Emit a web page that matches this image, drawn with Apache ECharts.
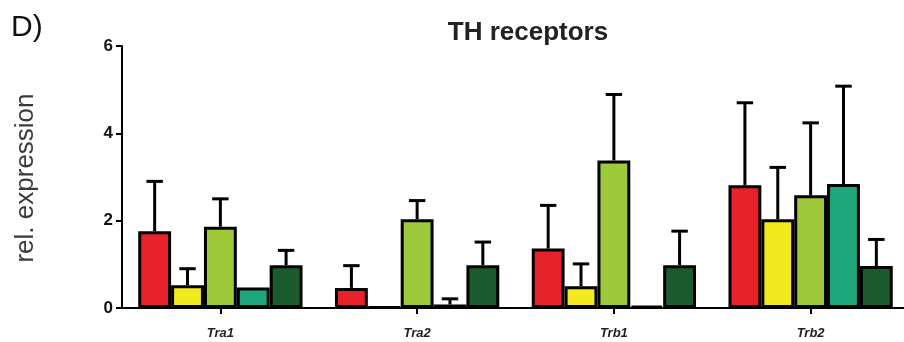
<!DOCTYPE html>
<html>
<head>
<meta charset="utf-8">
<script src="https://cdn.jsdelivr.net/npm/echarts@6/dist/echarts.min.js"></script>
<style>
  html, body { margin: 0; padding: 0; background: #fff; overflow: hidden; }
  #chart { width: 912px; height: 342px; }
</style>
</head>
<body>
<div id="chart"></div>
<script>
// Genes on the x axis
const genes = ['Tra1', 'Tra2', 'Trb1', 'Trb2'];
const yTicks = [0, 2, 4, 6];

// Mean relative expression per group
const groupA = [1.76, 0.46, 1.36, 2.81];
const groupB = [0.52, 0.02, 0.50, 2.03];
const groupC = [1.86, 2.03, 3.38, 2.58];
const groupD = [0.47, 0.08, 0.05, 2.84];
const groupE = [0.98, 0.98, 0.98, 0.96];

// Upper error (SD) per group
const errA = [1.14, 0.51, 0.99, 1.89];
const errB = [0.38, 0.00, 0.51, 1.19];
const errC = [0.64, 0.43, 1.51, 1.66];
const errD = [0.00, 0.13, 0.00, 2.24];
const errE = [0.34, 0.53, 0.78, 0.61];

const means = [groupA, groupB, groupC, groupD, groupE];
const errs = [errA, errB, errC, errD, errE];
const colors = ['#E8222A', '#F2E91F', '#9DC93A', '#1DA67B', '#1C5B2D'];
const nGroups = means.length;
const catGap = 0.165;

const series = [];
means.forEach((m, i) => {
  series.push({
    type: 'bar',
    name: 'group' + (i + 1),
    data: m,
    barGap: '0%',
    barCategoryGap: (catGap * 100) + '%',
    itemStyle: { color: colors[i], borderColor: '#000', borderWidth: 3 },
    z: 2
  });
});

// Upward error bars with caps, aligned to each bar within its category
means.forEach((m, i) => {
  series.push({
    type: 'custom',
    name: 'err' + (i + 1),
    data: m.map((v, k) => [k, v, v + errs[i][k]]),
    z: 3,
    renderItem: function (params, api) {
      const k = api.value(0);
      const lo = api.value(1);
      const hi = api.value(2);
      if (hi - lo <= 0) return null;
      const band = api.size([1, 0])[0];
      const barW = band * (1 - catGap) / nGroups;
      const base = api.coord([k, lo]);
      const top = api.coord([k, hi]);
      const x = base[0] + (i - (nGroups - 1) / 2) * barW;
      const capHalf = barW * 0.25;
      const style = { stroke: '#000', lineWidth: 3, fill: null };
      return {
        type: 'group',
        children: [
          { type: 'line', shape: { x1: x, y1: base[1], x2: x, y2: top[1] }, style: style },
          { type: 'line', shape: { x1: x - capHalf, y1: top[1], x2: x + capHalf, y2: top[1] }, style: style }
        ]
      };
    }
  });
});

const chart = echarts.init(document.getElementById('chart'), null, { renderer: 'canvas' });
chart.setOption({
  animation: false,
  backgroundColor: '#fff',
  textStyle: { fontFamily: 'Liberation Sans, Arial, sans-serif' },
  title: [
    {
      text: 'TH receptors',
      left: 523, top: 15,
      textAlign: 'center',
      textStyle: { fontSize: 26, fontWeight: 'bold', color: '#222', fontFamily: 'Liberation Sans' }
    },
    {
      text: 'D)',
      left: 6, top: 8,
      textStyle: { fontSize: 30, fontWeight: 'normal', color: '#111', fontFamily: 'Liberation Sans' }
    }
  ],
  graphic: [
    {
      type: 'text',
      x: 26, y: 178,
      rotation: Math.PI / 2,
      style: {
        text: 'rel. expression',
        font: '26px "Liberation Sans"',
        fill: '#3a3a3a',
        align: 'center',
        verticalAlign: 'middle'
      }
    }
  ],
  grid: { left: 122, width: 787, top: 46, bottom: 34, containLabel: false },
  xAxis: {
    type: 'category',
    data: genes,
    axisLine: { lineStyle: { color: '#000', width: 2 } },
    axisTick: { show: true, alignWithLabel: true, length: 6, lineStyle: { color: '#000', width: 2 } },
    axisLabel: {
      margin: 19,
      fontSize: 13, fontWeight: 'bold', fontStyle: 'italic', color: '#222',
      fontFamily: 'Liberation Sans'
    }
  },
  yAxis: {
    type: 'value',
    min: yTicks[0], max: yTicks[yTicks.length - 1], interval: 2,
    splitLine: { show: false },
    axisLine: { show: true, lineStyle: { color: '#000', width: 2 } },
    axisTick: { show: true, length: 6, lineStyle: { color: '#000', width: 2 } },
    axisLabel: {
      margin: 9,
      fontSize: 17, fontWeight: 'bold', color: '#111',
      fontFamily: 'Liberation Sans'
    }
  },
  series: series
});
</script>
</body>
</html>
